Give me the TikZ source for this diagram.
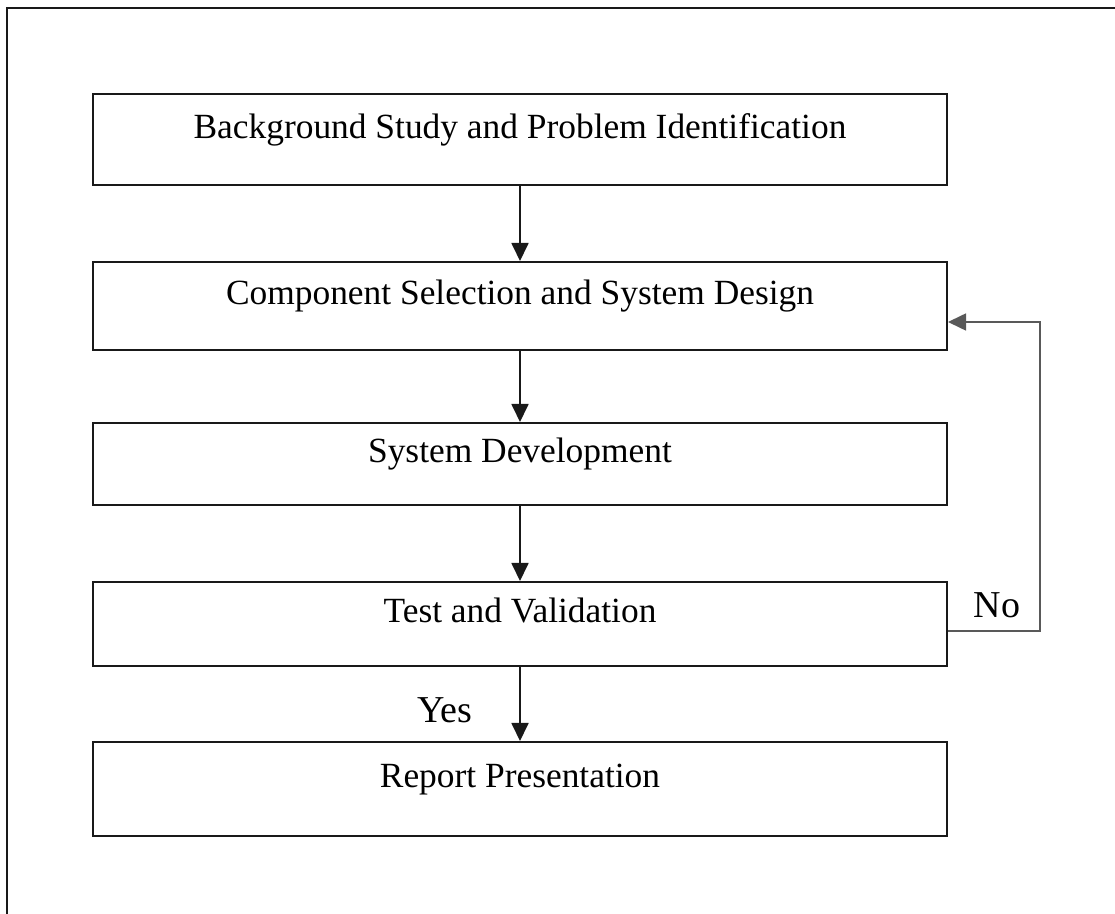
\documentclass[tikz,border=0pt]{standalone}
\usepackage{fontspec}
\setmainfont{Liberation Serif}
\usepackage{tikz}
\usetikzlibrary{arrows.meta, calc, positioning}
\definecolor{mainBlack}{gray}{0.1}

\begin{document}
\begin{tikzpicture}[x=0.5pt, y=-0.5pt,
    stage/.style={draw=mainBlack, line width=1pt, minimum width=427pt,
        text height=12pt, text depth=13pt, font=\fontsize{17.7}{20}\selectfont},
    flow/.style={line width=0.9pt, mainBlack, -{Triangle[length=9pt, width=8.5pt]}}]
    \useasboundingbox (0,0) rectangle (1115,914);

    % outer frame, only top and left edges show
    \coordinate (F1) at (7,914);
    \coordinate (F2) at (7,8);
    \coordinate (F3) at (1115,8);
    \draw[line width=1pt, mainBlack] (F1) -- (F2) -- (F3);

    \node[stage, minimum height=45.5pt] (A) at (520,139.5) {Background Study and Problem Identification};
    \node[stage, minimum height=44pt] (B) at (520,306) {Component Selection and System Design};
    \node[stage, minimum height=41pt] (C) at (520,464) {System Development};
    \node[stage, minimum height=42pt] (D) at (520,624) {Test and Validation};
    \node[stage, minimum height=47pt] (E) at (520,789) {Report Presentation};

    \draw[flow] (A) -- (B);
    \draw[flow] (B) -- (C);
    \draw[flow] (C) -- (D);
    \draw[flow] (D) -- (E);

    % loop back when the test fails
    \coordinate (N1) at (1040,631);
    \coordinate (N2) at (1040,322);
    \draw[line width=0.8pt, black!65, -{Triangle[length=9pt, width=8.5pt]}]
        (D.east |- N1) -- (N1) -- (N2) -- (B.east |- N2);

    \node[font=\fontsize{19}{22}\selectfont] (No) at (997,605) {No};
    \node[font=\fontsize{19}{22}\selectfont] (Yes) at (445,710) {Yes};
\end{tikzpicture}
\end{document}
